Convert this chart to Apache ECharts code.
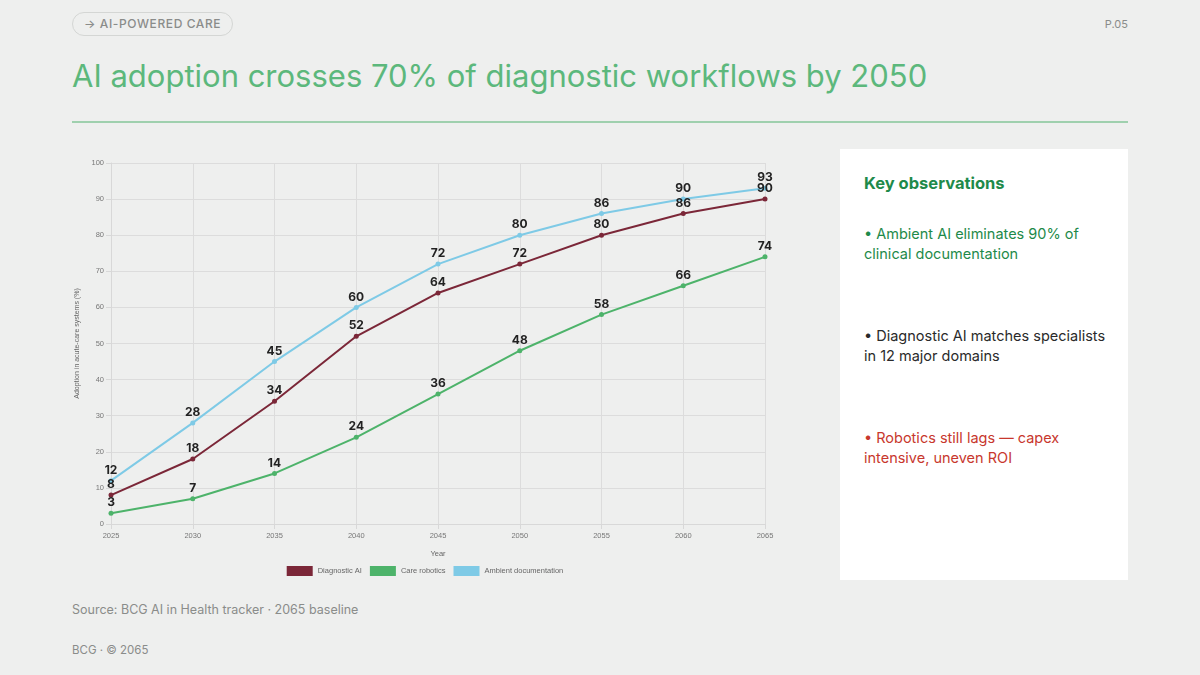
<!DOCTYPE html>
<html><head><meta charset="utf-8">
<script src="https://cdn.jsdelivr.net/npm/echarts@6/dist/echarts.min.js"></script>
<style>
html,body{margin:0;padding:0;}
body{width:1200px;height:675px;background:#eeefee;font-family:Inter,"Noto Sans",sans-serif;position:relative;overflow:hidden;}
.pill{position:absolute;left:72px;top:12px;height:22px;padding:0 11px;border:1px solid #d4d6d4;border-radius:12px;font-size:12px;letter-spacing:0.6px;color:#8a8c8a;line-height:22px;font-weight:500;}
.page{position:absolute;right:72px;top:17px;font-size:11px;color:#8a8c8a;}
h1{position:absolute;left:72px;top:57px;margin:0;font-size:31px;font-weight:400;color:#5cb87c;}
.rule{position:absolute;left:72px;top:121px;width:1056px;height:2px;background:#9fd0ae;}
#chart{position:absolute;left:60px;top:150px;width:730px;height:440px;}
.panel{position:absolute;left:840px;top:149px;width:288px;height:431px;background:#fff;}
.panel h2{position:absolute;left:24px;top:24px;margin:0;font-size:16.5px;font-weight:700;color:#1e8a4a;}
.obs{position:absolute;left:24px;width:250px;font-size:14.5px;line-height:20px;}
.src{position:absolute;left:72px;top:602px;font-size:12.5px;color:#8a8c8a;}
.foot{position:absolute;left:72px;top:643px;font-size:11.5px;color:#8a8c8a;}
</style></head><body>
<div class="pill">→ AI-POWERED CARE</div>
<div class="page">P.05</div>
<h1>AI adoption crosses 70% of diagnostic workflows by 2050</h1>
<div class="rule"></div>
<div id="chart"></div>
<div class="panel">
<h2>Key observations</h2>
<div class="obs" style="top:75px;color:#1e8a4a;">• Ambient AI eliminates 90% of clinical documentation</div>
<div class="obs" style="top:177px;color:#2a2a2a;">• Diagnostic AI matches specialists in 12 major domains</div>
<div class="obs" style="top:279px;color:#c8372d;">• Robotics still lags — capex intensive, uneven ROI</div>
</div>
<div class="src">Source: BCG AI in Health tracker · 2065 baseline</div>
<div class="foot">BCG · © 2065</div>
<script>
const years = ['2025','2030','2035','2040','2045','2050','2055','2060','2065'];
const diagnosticAI = [8,18,34,52,64,72,80,86,90];
const careRobotics = [3,7,14,24,36,48,58,66,74];
const ambientDoc = [12,28,45,60,72,80,86,90,93];
const seriesNames = ['Diagnostic AI','Care robotics','Ambient documentation'];
const colors = ['#7b2738','#4db36a','#7ecae6'];

const chart = echarts.init(document.getElementById('chart'));
const axFont = '"Liberation Sans", Arial, sans-serif';
function mk(name, data, color){
  return {name, type:'line', data, color,
    lineStyle:{width:2,color}, symbol:'circle', symbolSize:5,
    itemStyle:{color},
    label:{show:true, position:'top', distance:2, color:'#222', fontSize:12, fontWeight:'bold', fontFamily:'Inter'}};
}
chart.setOption({
  animation:false,
  textStyle:{fontFamily:axFont},
  grid:{left:51,right:25,top:13,bottom:66},
  legend:{bottom:9, left:'center', icon:'rect', itemWidth:26, itemHeight:10, itemGap:8,
    textStyle:{fontSize:7.5, color:'#666', fontFamily:axFont}, data:seriesNames,
    itemStyle:{borderWidth:1}},
  xAxis:{type:'category', data:years, boundaryGap:false, name:'Year', nameLocation:'middle', nameGap:26,
    nameTextStyle:{fontSize:7.5,color:'#666',fontFamily:axFont},
    axisLine:{lineStyle:{color:'#d8d8d8'}}, axisTick:{show:true,length:5,lineStyle:{color:'#d8d8d8'}},
    axisLabel:{fontSize:7.5,color:'#777',margin:8,fontFamily:axFont},
    splitLine:{show:true,lineStyle:{color:'#dcdcdc'}}},
  yAxis:{type:'value', min:0, max:100, interval:10, name:'Adoption in acute-care systems (%)', nameLocation:'middle', nameGap:28,
    nameTextStyle:{fontSize:7,color:'#666',fontFamily:axFont},
    axisLine:{show:true,lineStyle:{color:'#d8d8d8'}}, axisTick:{show:true,length:5,lineStyle:{color:'#d8d8d8'}},
    axisLabel:{fontSize:7.5,color:'#777',margin:7,fontFamily:axFont},
    splitLine:{lineStyle:{color:'#dcdcdc'}}},
  series:[mk(seriesNames[0],diagnosticAI,colors[0]), mk(seriesNames[1],careRobotics,colors[1]), mk(seriesNames[2],ambientDoc,colors[2])]
});
</script>
</body></html>
